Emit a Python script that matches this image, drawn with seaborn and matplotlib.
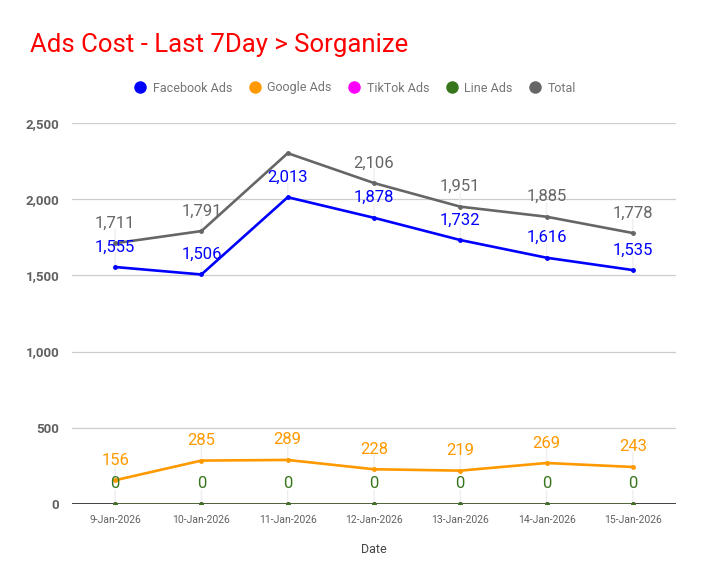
import matplotlib
matplotlib.use("Agg")
import matplotlib.pyplot as plt
import seaborn as sns
import pandas as pd
from matplotlib.lines import Line2D

dates = ["9-Jan-2026", "10-Jan-2026", "11-Jan-2026", "12-Jan-2026",
         "13-Jan-2026", "14-Jan-2026", "15-Jan-2026"]
facebook = [1555, 1506, 2013, 1878, 1732, 1616, 1535]
google = [156, 285, 289, 228, 219, 269, 243]
tiktok = [0, 0, 0, 0, 0, 0, 0]
line_ads = [0, 0, 0, 0, 0, 0, 0]
total = [1711, 1791, 2302, 2106, 1951, 1885, 1778]
total_labels_shown = [True, True, False, True, True, True, True]

series_names = ["Facebook Ads", "Google Ads", "TikTok Ads", "Line Ads", "Total"]
series_values = [facebook, google, tiktok, line_ads, total]
colors = ["#0000ff", "#ff9900", "#ff00ff", "#38761d", "#666666"]
yticks = [0, 500, 1000, 1500, 2000, 2500]

sns.set_theme(style="white")
plt.rcParams["font.family"] = ["Roboto", "DejaVu Sans"]

rows = []
for name, vals in zip(series_names, series_values):
    for i, v in enumerate(vals):
        rows.append({"idx": i, "Date": dates[i], "Cost": v, "Series": name})
df = pd.DataFrame(rows)

fig = plt.figure(figsize=(7.04, 5.85), dpi=100)
ax = fig.add_axes([72 / 704, 1 - 504 / 585, (676 - 72) / 704, (504 - 123) / 585])

ax.axhline(0, color="#333333", lw=1.3, zorder=1)
for t in yticks[1:]:
    ax.axhline(t, color="#cccccc", lw=0.9, zorder=0)

sns.lineplot(data=df, x="idx", y="Cost", hue="Series", hue_order=series_names,
             palette=dict(zip(series_names, colors)), marker="o", markersize=3.5,
             markeredgewidth=0, linewidth=1.9, ax=ax, legend=False, zorder=3)

# data labels
label_series = [("Total", total, "#666666", total_labels_shown),
                ("Facebook Ads", facebook, "#0000ff", [True] * 7),
                ("Google Ads", google, "#ff9900", [True] * 7),
                ("Line Ads", line_ads, "#38761d", [True] * 7)]
for name, vals, c, shown in label_series:
    for i, v in enumerate(vals):
        if not shown[i]:
            continue
        ax.annotate(f"{v:,}", (i, v), xytext=(0, 9), textcoords="offset points",
                    ha="center", va="bottom", fontsize=12, color=c, zorder=5)
        ax.annotate("", (i, v), xytext=(0, 10), textcoords="offset points",
                    arrowprops=dict(arrowstyle="-", color="#eeeeee", lw=1,
                                    shrinkA=0, shrinkB=0), zorder=2)

ax.set_xlim(-0.5, 6.5)
ax.set_ylim(0, 2500)
ax.set_xticks(range(len(dates)))
ax.set_xticklabels(dates, fontsize=7.5, color="#616161")
ax.set_yticks(yticks)
ax.set_yticklabels([f"{t:,}" for t in yticks], fontsize=9.5, color="#616161",
                   fontweight="bold")
ax.tick_params(axis="both", length=0, pad=8)
ax.tick_params(axis="y", pad=9)
for s in ax.spines.values():
    s.set_visible(False)
ax.set_xlabel("Date", fontsize=9, color="#444444", labelpad=13)
ax.set_ylabel("")

fig.text(30 / 704, 1 - 45 / 585, "Ads Cost - Last 7Day > Sorganize", color="#ff0000",
         fontsize=18.5, ha="left", va="center")

handles = [Line2D([], [], marker="o", ls="", markersize=9, markerfacecolor=c,
                  markeredgewidth=0, color=c) for c in colors]
fig.legend(handles, series_names, loc="center", bbox_to_anchor=(355 / 704, 1 - 88 / 585),
           ncol=5, frameon=False, fontsize=9, labelcolor="#757575",
           handletextpad=0.5, columnspacing=1.3, handlelength=1.0)

fig.savefig("out.png", dpi=100)
